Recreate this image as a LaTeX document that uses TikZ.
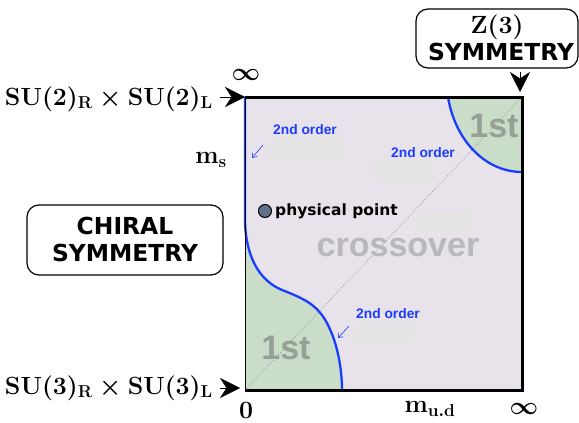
\documentclass[tikz,border=0pt]{standalone}
\usepackage{fontspec}
\setsansfont{Liberation Sans}
\newfontfamily\lucidalike{DejaVu Sans}
\usetikzlibrary{arrows.meta,positioning,calc}
\definecolor{pdlav}{HTML}{E8E2EA}
\definecolor{pdgreen}{HTML}{C9DDC9}
\definecolor{pdblue}{HTML}{1A3CFF}
\definecolor{pdgrey}{HTML}{B9B8BC}
\definecolor{pdfirst}{HTML}{96A094}
\definecolor{pddot}{HTML}{5E718A}
\definecolor{pdpatch}{HTML}{E4E4E4}

\begin{document}
\begin{tikzpicture}[x=1pt,y=-1pt,>=Stealth,
 symbox/.style={draw=black,line width=1.2pt,fill=white,rounded corners=12pt,align=center,inner sep=0pt},
 symtext/.style={font=\lucidalike\bfseries\fontsize{23.4}{26}\selectfont},
 mathlbl/.style={font=\boldmath\fontsize{23}{26}\selectfont,inner sep=0pt},
 order/.style={font=\sffamily\bfseries\fontsize{13.8}{15}\selectfont,text=pdblue,inner sep=0pt},
 region/.style={font=\sffamily\bfseries\fontsize{34}{36}\selectfont,inner sep=0pt},
 tip/.style={-{Stealth[length=20pt,width=20pt]}},
 orderarrow/.style={->,pdblue,line width=0.6pt,>={Straight Barb[length=4pt,width=6pt]}}]
\useasboundingbox (0,0) rectangle (579,423);
% corners of the plane
\coordinate (tl) at (245,97);
\coordinate (tr) at (522,97);
\coordinate (br) at (522,390);
\coordinate (bl) at (245,390);
% regions
\fill[pdlav] (tl) rectangle (br);
\fill[pdgreen] (245,222) .. controls (246,255) and (258,280) .. (282,290)
 .. controls (305,299) and (318,305) .. (328,325)
 .. controls (338,345) and (342,370) .. (342,390) -- (bl) -- cycle;
\fill[pdgreen] (448,97) .. controls (455,140) and (485,172) .. (522,172) -- (tr) -- cycle;
% faint patches
\fill[pdpatch] (270,137) rectangle (345,160);
\fill[pdpatch] (374,160) rectangle (433,181);
\fill[pdpatch] (356,323) rectangle (415,343);
\fill[pdpatch] (417,212) rectangle (472,233);
\draw[gray,dotted,line width=0.7pt] (bl) -- (tr);
% transition lines
\draw[pdblue,line width=2.3pt] (tl) -- (245,222) .. controls (246,255) and (258,280) .. (282,290)
 .. controls (305,299) and (318,305) .. (328,325)
 .. controls (338,345) and (342,370) .. (342,390);
\draw[pdblue,line width=2.3pt] (448,97) .. controls (455,140) and (485,172) .. (522,172);
% frame
\draw[line width=0.6pt] (bl) -- (tl);
\draw[line width=3pt] (tl) -- (tr) -- (br) -- (bl);
% region labels
\node[region,text=pdgrey] (cross) at (398,248) {crossover};
\node[region,text=pdfirst] (firstbl) at (286,348) {1st};
\node[region,text=pdfirst] (firsttr) at (494,126) {1st};
\node[order] (ordtl) at (305,130) {2nd order};
\node[order] (ordtr) at (423,153) {2nd order};
\node[order] (ordbl) at (388,314) {2nd order};
\coordinate (arrtl) at (252,158);
\coordinate (arrbl) at (338,338);
\draw[orderarrow] (263,145) -- (arrtl);
\draw[orderarrow] (349,326) -- (arrbl);
% physical point
\node[circle,draw=black,line width=1pt,fill=pddot,minimum size=13pt,inner sep=0pt] (phys) at (265,211) {};
\node[right=3pt of phys,inner sep=0pt,font=\lucidalike\bfseries\fontsize{15.5}{17}\selectfont] (physlbl) {physical point};
% axis labels
\node[mathlbl,anchor=east] (su2) at (213,99) {$\mathbf{SU(2)_R\times SU(2)_L}$};
\node[mathlbl,anchor=east] (su3) at (213,388) {$\mathbf{SU(3)_R\times SU(3)_L}$};
\node[mathlbl] (inftop) at (246,75) {$\infty$};
\node[mathlbl] (infright) at (524,409) {$\infty$};
\node[mathlbl] (zero) at (246,410) {$\mathbf{0}$};
\node[mathlbl] (ms) at (211,160) {$\mathbf{m_s}$};
\node[mathlbl] (mud) at (430,409) {$\mathbf{m_{u.d}}$};
% symmetry boxes
\node[symbox,minimum width=196pt,minimum height=70pt] (chiral) at (125,240) {};
\node[symtext] at ($(chiral.center)+(0,-14)$) {CHIRAL};
\node[symtext] at ($(chiral.center)+(0,13)$) {SYMMETRY};
\node[symbox,minimum width=162pt,minimum height=59pt] (zthree) at (497,38.5) {};
\node[mathlbl] at ($(zthree.center)+(0,-11)$) {$\mathbf{Z(3)}$};
\node[symtext] at ($(zthree.center)+(4,13)$) {SYMMETRY};
% pointers
\draw[tip] (220,97) -- (tl);
\draw[tip] (220,388) -- (240,388);
\draw[tip] (520,72) -- (520,92);
\end{tikzpicture}
\end{document}
